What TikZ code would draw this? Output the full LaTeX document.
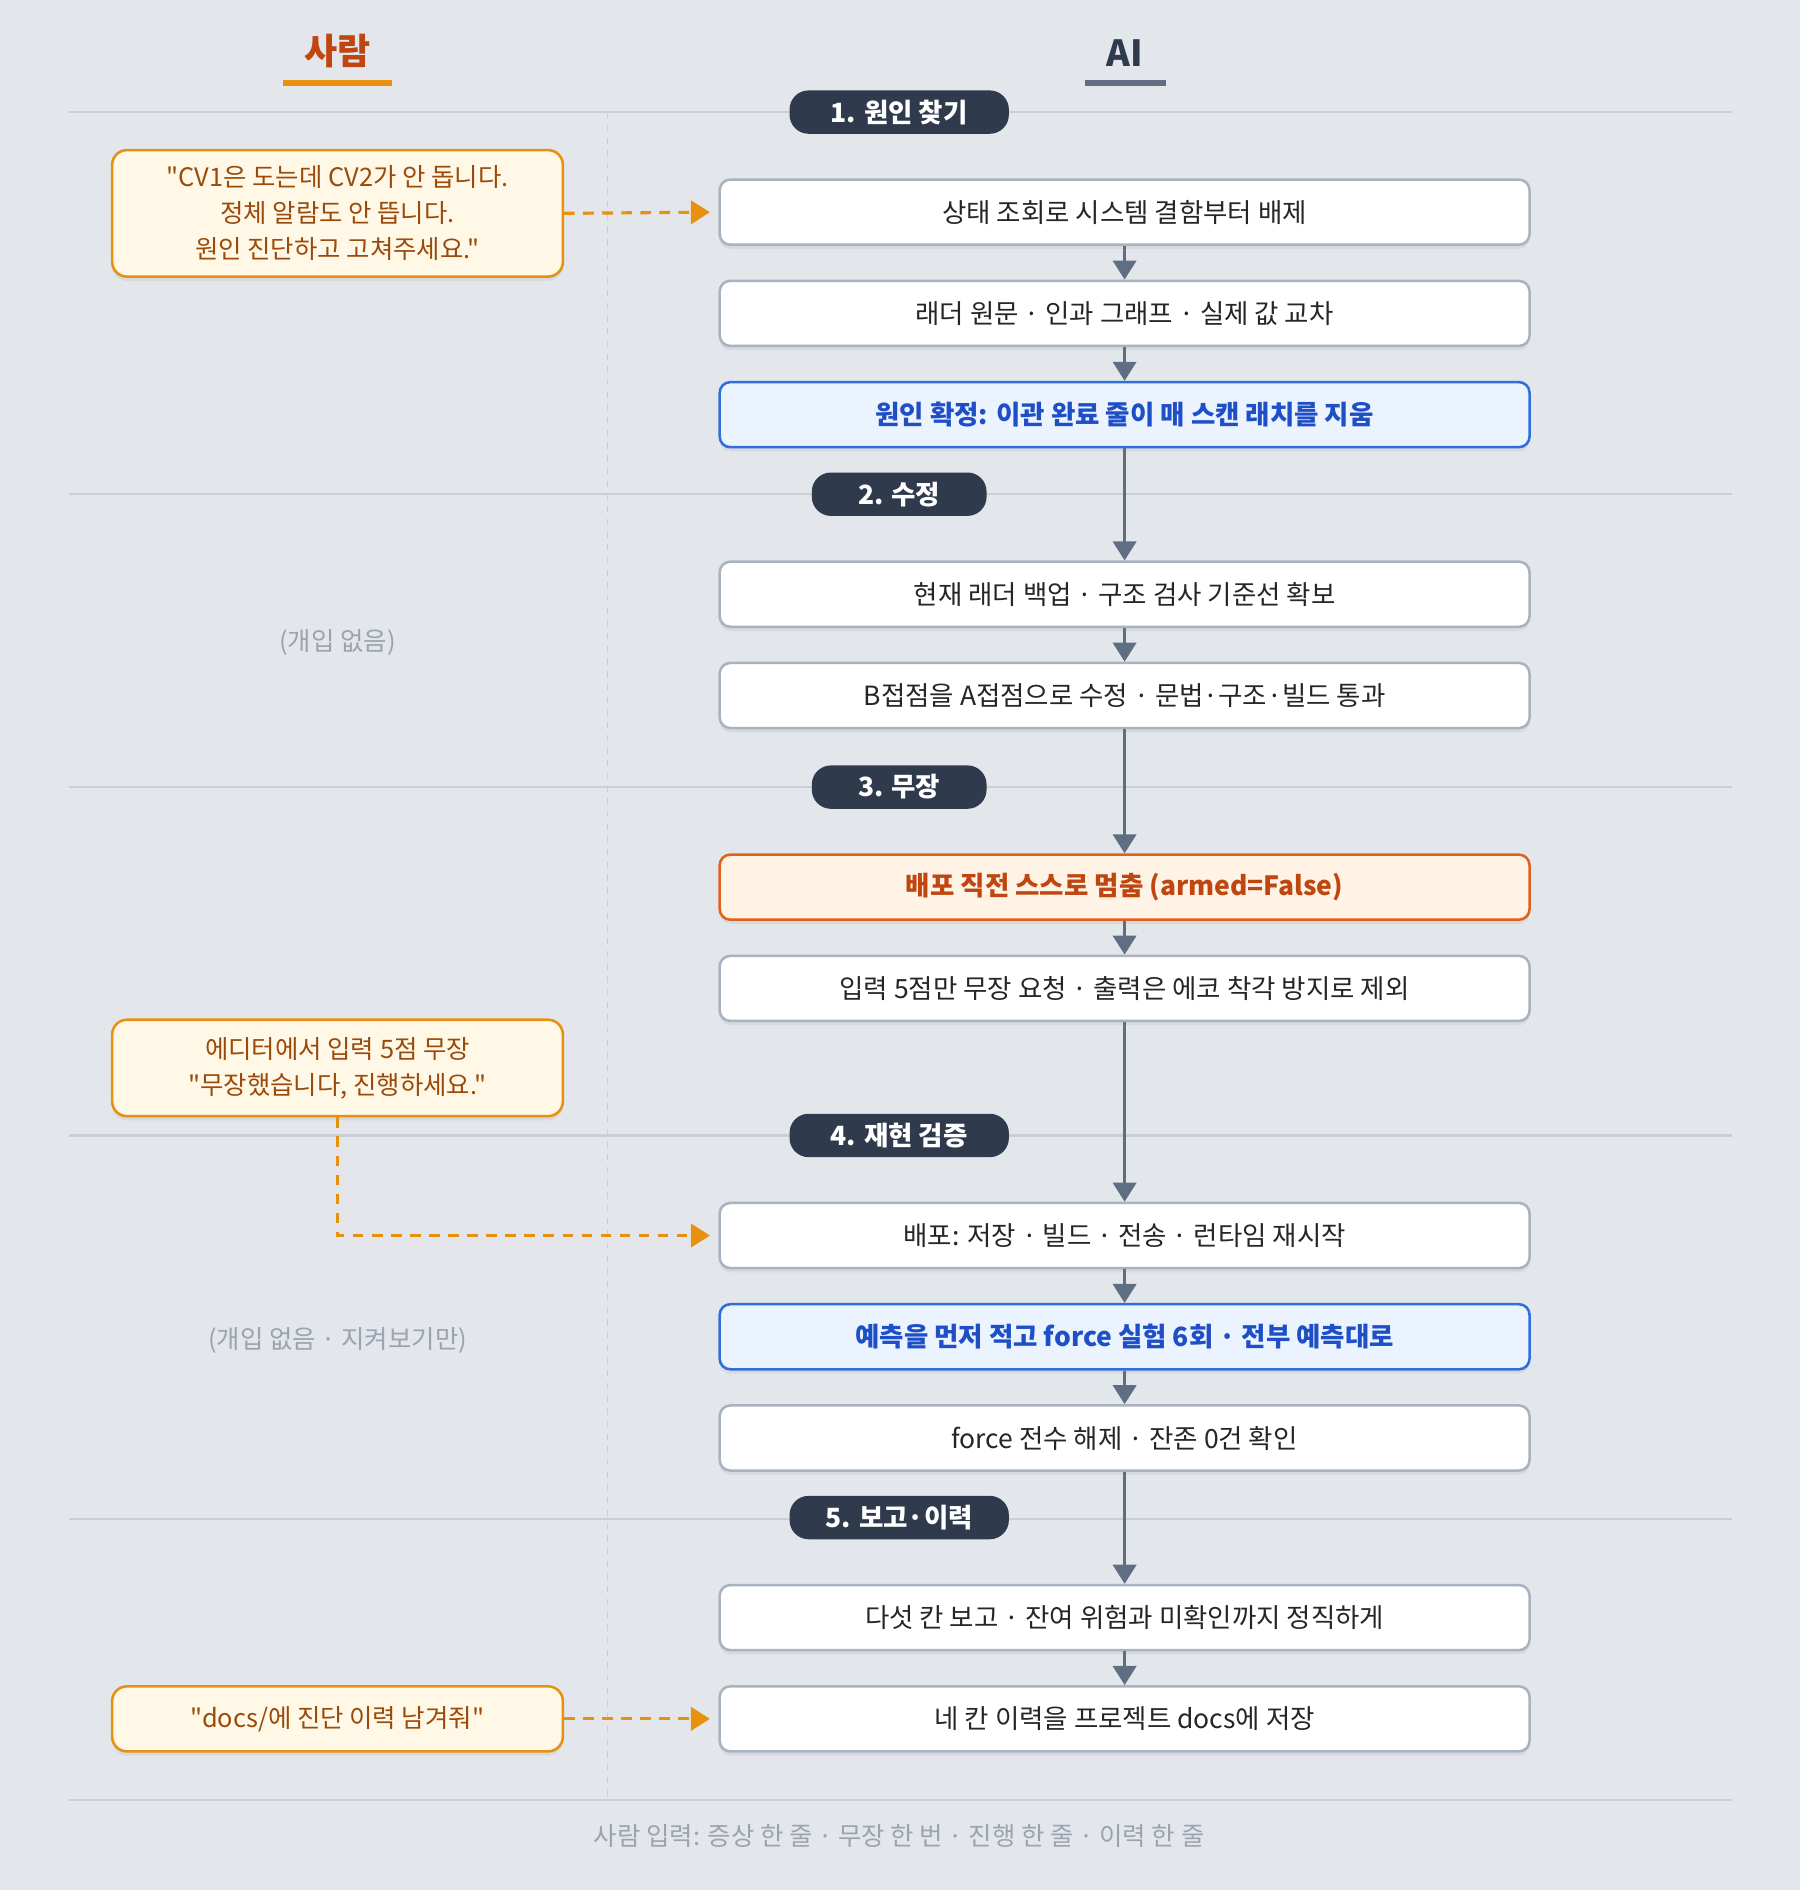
\documentclass[tikz,border=0pt]{standalone}
\usepackage{fontspec}
\setmainfont{Noto Sans CJK KR}[Mapping=]
\usetikzlibrary{arrows.meta,shadows}
\newcommand\qq{\char"0022\relax}
\definecolor{bg}{HTML}{E3E7EC}
\definecolor{sep}{HTML}{C9CFD7}
\definecolor{pill}{HTML}{2F3B4C}
\definecolor{gbord}{HTML}{A9B3C0}
\definecolor{arr}{HTML}{5F6E82}
\definecolor{bfill}{HTML}{EAF3FE}
\definecolor{bbord}{HTML}{2F6FDB}
\definecolor{btext}{HTML}{1F4FC6}
\definecolor{ofill}{HTML}{FFF3E6}
\definecolor{obord}{HTML}{E0621A}
\definecolor{otext}{HTML}{C0460F}
\definecolor{hfill}{HTML}{FFF8E6}
\definecolor{hbord}{HTML}{E8900F}
\definecolor{htext}{HTML}{9A4A0A}
\definecolor{gtext}{HTML}{9AA3AE}
\begin{document}
\begin{tikzpicture}[x=0.02cm,y=-0.02cm,
 ai/.style={draw=gbord,line width=1.2pt,fill=white,rounded corners=5pt,minimum width=13.44cm,minimum height=1.08cm,font=\fontsize{12.5}{15}\selectfont,text=black!85,drop shadow={shadow xshift=0pt,shadow yshift=-2pt,opacity=0.12}},
 blue/.style={ai,draw=bbord,fill=bfill,text=btext,font=\fontsize{12.5}{15}\selectfont\bfseries},
 orn/.style={ai,draw=obord,fill=ofill,text=otext,font=\fontsize{12.5}{15}\selectfont\bfseries},
 hum/.style={draw=hbord,line width=1.2pt,fill=hfill,rounded corners=7pt,minimum width=7.48cm,text=htext,align=center,font=\fontsize{12}{17}\selectfont,drop shadow={shadow xshift=0pt,shadow yshift=-2pt,opacity=0.12}},
 pil/.style={fill=pill,rounded corners=9pt,text=white,font=\fontsize{12.5}{15}\selectfont\bfseries,minimum height=0.72cm},
 fl/.style={draw=arr,line width=1.5pt,-{Triangle[length=9pt,width=11pt]}},
 hd/.style={draw=hbord,line width=1.5pt,dash pattern=on 5pt off 4pt,-{Triangle[length=9pt,width=11pt]}},
 sp/.style={draw=sep,line width=1pt},
 gt/.style={text=gtext,font=\fontsize{12}{15}\selectfont}]
\fill[bg] (0,0) rectangle (1493,1568);
\useasboundingbox (0,0) rectangle (1493,1568);
% headers
\node[text=otext,font=\fontsize{17}{20}\selectfont\bfseries] (hs) at (280,42) {사람};
\draw[hbord,line width=3pt] (235,69) -- (325,69);
\node[text=pill,font=\fontsize{17}{20}\selectfont\bfseries] (ha) at (933,44) {AI};
\draw[arr,line width=3pt] (900,69) -- (967,69);
% separators
\foreach \y in {93,410,653,942,1260,1493} \draw[sp] (57,\y) -- (1437,\y);
\draw[sep,dash pattern=on 3pt off 3pt,line width=0.8pt] (504,93) -- (504,1493);
% AI boxes
\node[ai] (a1) at (933,176) {상태 조회로 시스템 결함부터 배제};
\node[ai] (a2) at (933,260) {래더 원문 · 인과 그래프 · 실제 값 교차};
\node[blue] (a3) at (933,344) {원인 확정: 이관 완료 줄이 매 스캔 래치를 지움};
\node[ai] (a4) at (933,493) {현재 래더 백업 · 구조 검사 기준선 확보};
\node[ai] (a5) at (933,577) {B접점을 A접점으로 수정 · 문법·구조·빌드 통과};
\node[orn] (a6) at (933,736) {배포 직전 스스로 멈춤 (armed=False)};
\node[ai] (a7) at (933,820) {입력 5점만 무장 요청 · 출력은 에코 착각 방지로 제외};
\node[ai] (a8) at (933,1025) {배포: 저장 · 빌드 · 전송 · 런타임 재시작};
\node[blue] (a9) at (933,1109) {예측을 먼저 적고 force 실험 6회 · 전부 예측대로};
\node[ai] (a10) at (933,1193) {force 전수 해제 · 잔존 0건 확인};
\node[ai] (a11) at (933,1342) {다섯 칸 보고 · 잔여 위험과 미확인까지 정직하게};
\node[ai] (a12) at (933,1426) {네 칸 이력을 프로젝트 docs에 저장};
\foreach \i/\j in {a1/a2,a2/a3,a3/a4,a4/a5,a5/a6,a6/a7,a7/a8,a8/a9,a9/a10,a10/a11,a11/a12}
  \draw[fl] (\i) -- (\j);
% pills
\node[pil,minimum width=3.64cm] (p1) at (746,93) {1. 원인 찾기};
\node[pil,minimum width=2.9cm] (p2) at (746,410) {2. 수정};
\node[pil,minimum width=2.9cm] (p3) at (746,653) {3. 무장};
\node[pil,minimum width=3.64cm] (p4) at (746,942) {4. 재현 검증};
\node[pil,minimum width=3.64cm] (p5) at (746,1259) {5. 보고·이력};
% human
\node[hum,minimum height=2.1cm] (h1) at (280,177) {\qq CV1은 도는데 CV2가 안 돕니다.\\정체 알람도 안 뜹니다.\\원인 진단하고 고쳐주세요.\qq};
\node[hum,minimum height=1.6cm] (h2) at (280,886) {에디터에서 입력 5점 무장\\\qq 무장했습니다, 진행하세요.\qq};
\node[hum,minimum height=1.08cm] (h3) at (280,1426) {\qq docs/에 진단 이력 남겨줘\qq};
\draw[hd] (h1.east) -- ([xshift=-4pt]a1.west);
\coordinate (c2) at (280,1025);
\draw[hd] (h2.south) -- (c2) -- ([xshift=-4pt]a8.west);
\draw[hd] (h3.east) -- ([xshift=-4pt]a12.west);
\node[gt] (n1) at (280,533) {(개입 없음)};
\node[gt] (n2) at (280,1112) {(개입 없음 · 지켜보기만)};
\node[gt] (ft) at (746,1523) {사람 입력: 증상 한 줄 · 무장 한 번 · 진행 한 줄 · 이력 한 줄};
\end{tikzpicture}
\end{document}
